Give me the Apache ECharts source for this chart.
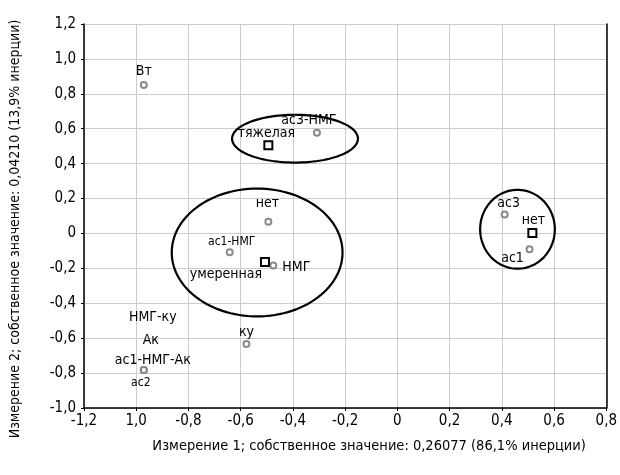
<!DOCTYPE html>
<html><head><meta charset="utf-8">
<script src="https://cdn.jsdelivr.net/npm/echarts@6/dist/echarts.min.js"></script>
<style>html,body{margin:0;padding:0;background:#fff}#c{width:620px;height:475px}</style>
</head><body><div id="c"></div>
<script>
// Column points (circles)
var colNames = ['Вт','ас3-НМГ','нет','ас1-НМГ','НМГ','ку','НМГ-ку','Ак','ас1-НМГ-Ак','ас2','ас3','ас1'];
var colX = [-0.971,-0.308,-0.494,-0.642,-0.475,-0.578,-0.971,-0.971,-0.971,-0.971,0.411,0.506];
var colY = [0.850,0.577,0.067,-0.107,-0.183,-0.634,-0.783,-0.783,-0.783,-0.783,0.109,-0.091];
// Row points (squares)
var rowNames = ['тяжелая','умеренная','нет'];
var rowX = [-0.494,-0.507,0.517];
var rowY = [0.505,-0.164,0.002];
// Ellipses: centre x, centre y, radius x, radius y
var ellCX = [-0.392,-0.537,0.460];
var ellCY = [0.543,-0.109,0.024];
var ellRX = [0.241,0.327,0.143];
var ellRY = [0.137,0.366,0.226];
// Tick labels
var xTicks = ['-1,2','1,0','-0,8','-0,6','-0,4','-0,2','0','0,2','0,4','0,6','0,8'];
var yTicks = ['-1,0','-0,8','-0,6','-0,4','-0,2','0','0,2','0,4','0,6','0,8','1,0','1,2'];
var xTitle = 'Измерение 1; собственное значение: 0,26077 (86,1% инерции)';
var yTitle = 'Измерение 2; собственное значение: 0,04210 (13,9% инерции)';

// label layout (pixel offsets, font sizes)
var colLab = [[0,-14,14],[-8,-12,14],[-1,-18,14],[2,-10,12],[23,2,14],[0,-12,14],[9,-53,14],[7,-30,14],[9,-10,14],[-3,13,12],[4,-11,14],[-17,9,14]];
var rowLab = [[-2,-12,14],[-39,12,14],[1,-13,14]];

var FF = '"Liberation Sans Narrow","Arial Narrow","DejaVu Sans Condensed",sans-serif';

function idx(v, step, min){return Math.round((v-min)/step);}

var colData = colNames.map(function(n,i){
  return {value:[colX[i],colY[i]], name:n,
    label:{show:true, formatter:n, position:'inside', offset:[colLab[i][0],colLab[i][1]],
      fontSize:colLab[i][2], color:'#000', fontFamily:FF}};
});
var rowData = rowNames.map(function(n,i){
  return {value:[rowX[i],rowY[i]], name:n,
    label:{show:true, formatter:n, position:'inside', offset:[rowLab[i][0],rowLab[i][1]],
      fontSize:rowLab[i][2], color:'#000', fontFamily:FF}};
});
var ellData = ellCX.map(function(c,i){return [c, ellCY[i], ellRX[i], ellRY[i]];});

var chart = echarts.init(document.getElementById('c'));
chart.setOption({
  animation:false,
  textStyle:{fontFamily:FF},
  grid:{left:82, right:10, top:24, bottom:67},
  xAxis:{type:'value', min:-1.2, max:0.8, interval:0.2,
    axisLine:{show:true, onZero:false, lineStyle:{color:'#000', width:1.5}},
    axisTick:{show:true, length:3, lineStyle:{color:'#000'}},
    splitLine:{show:true, lineStyle:{color:'#cccccc', width:1}},
    axisLabel:{fontSize:15, color:'#000', fontFamily:FF, margin:6,
      formatter:function(v){return xTicks[idx(v,0.2,-1.2)];}},
    name:xTitle, nameLocation:'middle', nameGap:31,
    nameTextStyle:{fontSize:14.5, color:'#000', fontFamily:FF, padding:[0,0,0,48]}},
  yAxis:[{type:'value', min:-1.0, max:1.2, interval:0.2,
    axisLine:{show:true, onZero:false, lineStyle:{color:'#000', width:1.5}},
    axisTick:{show:true, length:3, lineStyle:{color:'#000'}},
    splitLine:{show:true, lineStyle:{color:'#cccccc', width:1}},
    axisLabel:{fontSize:15, color:'#000', fontFamily:FF, margin:8,
      formatter:function(v){return yTicks[idx(v,0.2,-1.0)];}},
    name:yTitle, nameLocation:'middle', nameGap:62, nameRotate:90,
    nameTextStyle:{fontSize:14, color:'#000', fontFamily:FF, padding:[0,26,0,0]}},
   {type:'value', min:-1.0, max:1.2, interval:0.2, position:'right',
    axisLine:{show:true, onZero:false, lineStyle:{color:'#000', width:1.5}},
    axisTick:{show:false}, axisLabel:{show:false}, splitLine:{show:false}}],
  series:[
    {type:'custom', data:ellData, z:1, silent:true,
     renderItem:function(params, api){
       var c = api.coord([api.value(0), api.value(1)]);
       var s = api.size([api.value(2), api.value(3)]);
       var pts = [];
       for (var k=0;k<120;k++){var t=k/120*Math.PI*2; pts.push([c[0]+s[0]*Math.cos(t), c[1]+s[1]*Math.sin(t)]);}
       return {type:'polygon', shape:{points:pts}, style:{fill:null, stroke:'#000', lineWidth:2.2}};
     }},
    {type:'scatter', data:colData, symbol:'circle', symbolSize:6, z:3,
     itemStyle:{color:'#fff', borderColor:'#8a8a8a', borderWidth:2, opacity:1}},
    {type:'scatter', data:rowData, symbol:'rect', symbolSize:8, z:4,
     itemStyle:{color:'#fff', borderColor:'#000', borderWidth:2, opacity:1}}
  ]
});
</script></body></html>
